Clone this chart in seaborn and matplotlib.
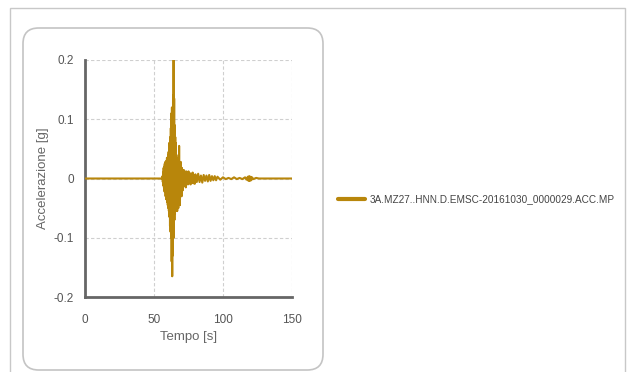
import matplotlib
matplotlib.use("Agg")
import matplotlib.pyplot as plt
from matplotlib.patches import FancyBboxPatch, Rectangle
import seaborn as sns
import pandas as pd

# ---- data ----
tempo = [0, 56.0,
         56.2, 56.4, 56.6, 56.8, 57.0, 57.2, 57.4, 57.6, 57.8, 58.0,
         58.2, 58.4, 58.6, 58.8, 59.0, 59.2, 59.4, 59.6, 59.8, 60.0,
         60.2, 60.4, 60.6, 60.8, 61.0, 61.2, 61.4, 61.6, 61.8, 62.0,
         62.2, 62.4, 62.6, 62.8, 63.0, 63.2, 63.4, 63.6, 63.8, 64.0,
         64.2, 64.4, 64.6, 64.8, 65.0, 65.2, 65.4, 65.6, 65.8, 66.0,
         66.2, 66.4, 66.6, 66.8, 67.0, 67.2, 67.4, 67.6, 67.8, 68.0,
         68.2, 68.4, 68.6, 68.8, 69.0, 69.2, 69.4, 69.6, 69.8, 70.0,
         70.2, 70.4, 70.6, 70.8, 71.0, 71.4, 71.8, 72.2, 72.6, 73.0,
         73.4, 73.8, 74.2, 74.6, 75.0, 75.5, 76.0, 76.5, 77.0, 77.5,
         78.0, 78.5, 79.0, 79.5, 80.0, 81, 82, 83, 84, 85, 86, 87, 88,
         89, 90, 91, 92, 93, 94, 95, 96, 98, 100, 102, 104, 106, 108,
         110, 112, 114, 116, 117, 118, 118.5, 119, 119.5, 120, 120.5,
         121, 122, 124, 126, 150]
accel = [0, 0,
         0.004, -0.006, 0.010, -0.012, 0.018, -0.015, 0.020, -0.022, 0.025, -0.020,
         0.028, -0.030, 0.022, -0.035, 0.030, -0.028, 0.035, -0.040, 0.032, -0.045,
         0.040, -0.050, 0.045, -0.055, 0.060, -0.065, 0.055, -0.080, 0.070, -0.090,
         0.085, -0.100, 0.110, -0.140, 0.120, -0.165, 0.100, -0.130, 0.140, -0.090,
         0.200, -0.100, 0.135, -0.070, 0.090, -0.060, 0.070, -0.055, 0.060, -0.050,
         0.040, -0.045, 0.035, -0.055, 0.030, -0.040, 0.025, -0.050, 0.030, -0.025,
         0.055, -0.020, 0.025, -0.045, 0.020, -0.015, 0.028, -0.018, 0.015, -0.030,
         0.018, -0.012, 0.015, -0.020, 0.012, -0.010, 0.014, -0.012, 0.010, -0.015,
         0.012, -0.008, 0.010, -0.010, 0.012, -0.008, 0.009, -0.010, 0.008, -0.007,
         0.010, -0.008, 0.006, -0.009, 0.007, -0.006, 0.008, -0.006, 0.005, -0.007,
         0.006, -0.004, 0.005, -0.005, 0.006, -0.004, 0.004, -0.003, 0.004, -0.003,
         0.003, -0.002, 0.002, -0.001, 0.001, -0.001, 0.002, -0.001, 0.001, -0.001,
         0.002, -0.002, 0.003, -0.004, 0.004, -0.004, 0.003, -0.003, 0.002, -0.001,
         0.001, 0, 0]
serie = "3A.MZ27..HNN.D.EMSC-20161030_0000029.ACC.MP"
x_ticks = [0, 50, 100, 150]
y_ticks = [-0.2, -0.1, 0, 0.1, 0.2]
y_labels = ["-0.2", "-0.1", "0", "0.1", "0.2"]

sns.set_theme(style="white")
plt.rcParams['font.family'] = ['Liberation Sans', 'DejaVu Sans']

W, H = 627, 372
fig = plt.figure(figsize=(W / 100, H / 100), dpi=100)

# outer frame and rounded panel
fig.patches.append(Rectangle((10 / W, -0.1), 615 / W, 1.1 - 8 / H,
                             transform=fig.transFigure, fill=False,
                             edgecolor="#c8c8c8", lw=1.0))
fig.patches.append(FancyBboxPatch((23 / W, 2 / H), 300 / W, (H - 28 - 2) / H,
                                  boxstyle="round,pad=0,rounding_size=0.025",
                                  transform=fig.transFigure, fill=False,
                                  edgecolor="#c4c4c4", lw=1.2,
                                  mutation_aspect=W / H))

ax = fig.add_axes([85 / W, 1 - 297 / H, (292 - 85) / W, (297 - 60) / H])
df = pd.DataFrame({"Tempo": tempo, "Acc": accel})
color = "#B8860B"
sns.lineplot(data=df, x="Tempo", y="Acc", ax=ax, color=color, lw=1.5,
             estimator=None, label=serie, zorder=3)

ax.set_xlim(0, 150)
ax.set_ylim(-0.2, 0.2)
ax.set_xticks(x_ticks)
ax.set_xticklabels([str(v) for v in x_ticks])
ax.set_yticks(y_ticks)
ax.set_yticklabels(y_labels)
ax.set_xticks([25, 75, 125], minor=True)
ax.set_yticks([-0.15, -0.05, 0.05, 0.15], minor=True)

ax.grid(True, which="major", ls=(0, (3, 2)), color="#cfcfcf", lw=0.8)
for s in ["top", "right"]:
    ax.spines[s].set_visible(False)
for s in ["left", "bottom"]:
    ax.spines[s].set_color("#666666")
    ax.spines[s].set_linewidth(2)

ax.tick_params(axis="both", which="both", direction="out", colors="#666666",
               labelcolor="#555555", labelsize=8.5, width=1.5)
ax.tick_params(axis="both", which="major", length=5)
ax.tick_params(axis="x", which="major", pad=7)
ax.tick_params(axis="y", which="major", pad=3)
ax.tick_params(axis="both", which="minor", length=4)
ax.set_xlabel("Tempo [s]", color="#666666", fontsize=9.5, labelpad=4)
ax.set_ylabel("Accelerazione [g]", color="#666666", fontsize=9.5, labelpad=3)
ax.set_facecolor("white")

ax.legend(loc="center left", bbox_to_anchor=(338 / W, 1 - 199 / H),
          bbox_transform=fig.transFigure, frameon=False, fontsize=7.2,
          handlelength=2.7, handletextpad=0.5, borderpad=0, borderaxespad=0,
          labelcolor="#444444")
for ln in ax.get_legend().get_lines():
    ln.set_linewidth(3)

fig.savefig("out.png", dpi=100)
